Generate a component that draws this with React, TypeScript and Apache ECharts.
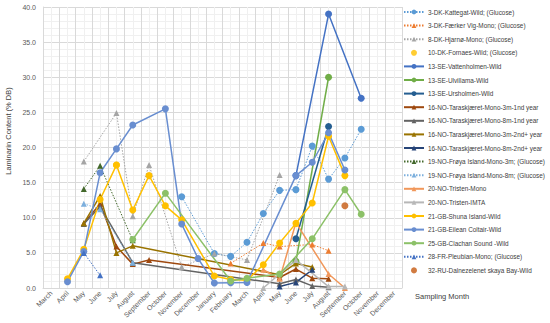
import React, { useEffect, useRef } from "react";
import * as echarts from "echarts";

const _ = null;

const months = [
  "March", "April", "May", "June", "July", "August", "September", "October", "November", "December",
  "January", "February", "March", "April", "May", "June", "July", "August", "September", "October", "November", "December",
];

// index:            Mar  Apr  May  Jun  Jul  Aug  Sep  Oct  Nov  Dec  Jan  Feb  Mar  Apr  May  Jun  Jul  Aug  Sep  Oct  Nov  Dec
const kattegat =    [_,   _,   _,   _,   _,   _,   _,   _,   13.0,_,   4.9, 4.5, 6.5, 10.6,13.9,14.0,20.2,15.5,18.5,22.6,_,   _];
const faerkerVig =  [_,   _,   _,   _,   _,   _,   _,   _,   _,   _,   _,   3.5, _,   6.4, 5.9, _,   6.2, 5.3, _,   _,   _,   _];
const hjarno =      [_,   _,   18.0,_,   24.9,10.2,17.5,_,   3.0, _,   4.9, _,   4.0, _,   16.1,_,   _,   _,   _,   _,   _,   _];
const fornaes =     [_,   _,   _,   _,   17.5,_,   _,   _,   _,   _,   _,   _,   _,   _,   _,   _,   _,   _,   _,   _,   _,   _];
const vattenholmen =[_,   _,   _,   _,   _,   _,   _,   _,   _,   _,   _,   _,   _,   _,   _,   16.0,_,   39.0,_,   27.0,_,   _];
const ulvillama =   [_,   _,   _,   _,   _,   _,   _,   _,   _,   _,   _,   _,   _,   _,   _,   3.8, _,   30.0,_,   _,   _,   _];
const ursholmen =   [_,   _,   _,   _,   _,   _,   _,   _,   _,   _,   _,   _,   _,   _,   _,   7.0, _,   23.0,_,   _,   _,   _];
const no3m1 =       [_,   _,   9.2, 12.0,5.9, 3.4, 4.0, _,   _,   _,   _,   _,   _,   _,   1.5, 2.7, 1.4, 1.3, _,   _,   _,   _];
const no8m1 =       [_,   _,   9.1, 11.6,_,   3.6, _,   _,   _,   _,   _,   _,   _,   _,   0.6, 1.2, 0.3, 0.1, _,   _,   _,   _];
const no3m2 =       [_,   _,   9.2, 13.1,5.0, 6.0, _,   _,   _,   _,   _,   _,   _,   _,   1.9, 3.5, 3.0, _,   _,   _,   _,   _];
const no8m2 =       [_,   _,   _,   _,   _,   _,   _,   _,   _,   _,   _,   _,   _,   _,   0.2, 0.8, 2.6, _,   _,   _,   _,   _];
const froya3m =     [_,   _,   14.1,17.4,_,   6.8, _,   _,   _,   _,   _,   _,   _,   _,   _,   _,   _,   _,   _,   _,   _,   _];
const froya8m =     [_,   _,   12.0,11.2,_,   3.6, _,   _,   _,   _,   _,   _,   _,   _,   _,   _,   _,   _,   _,   _,   _,   _];
const tristenMono = [_,   _,   _,   _,   _,   _,   _,   _,   _,   _,   _,   _,   _,   2.6, 1.3, 9.3, _,   2.0, 0.0, _,   _,   _];
const tristenImta = [_,   _,   _,   _,   _,   _,   _,   _,   _,   _,   _,   _,   _,   0.0, _,   4.0, _,   0.2, 0.2, _,   _,   _];
const shuna =       [_,   1.3, 5.5, 12.6,17.5,11.1,16.0,11.7,9.7, _,   1.7, 1.2, 1.1, 3.3, 6.4, 9.2, 12.1,21.6,16.0,_,   _,   _];
const eileanColtair=[_,   0.9, 5.2, 16.4,19.8,23.2,_,   25.5,9.1, 4.2, 0.7, 0.75,0.8, _,   _,   16.0,17.9,22.1,16.8,_,   _,   _];
const clachan =     [_,   _,   _,   _,   _,   6.9, _,   13.5,_,   _,   _,   1.0, 1.4, _,   2.0, _,   7.0, _,   14.0,10.5,_,   _];
const pleubian =    [_,   _,   5.0, 1.8, _,   _,   _,   _,   _,   _,   _,   _,   _,   _,   _,   _,   _,   _,   _,   _,   _,   _];
const dalnezelenetskaya = [_, _, _, _, _, _, _,  _,   _,   _,   _,   _,   _,   _,   _,   _,   _,   _,   11.7,_,   _,   _];

const yTicks = [0, 5, 10, 15, 20, 25, 30, 35, 40];

type Def = { name: string; data: (number | null)[]; color: string; symbol: string; line: "solid" | "dotted" | "none" };

const defs: Def[] = [
  { name: "3-DK-Kattegat-Wild; (Glucose)", data: kattegat, color: "#5B9BD5", symbol: "circle", line: "dotted" },
  { name: "3-DK-Færker Vig-Mono; (Glucose)", data: faerkerVig, color: "#ED7D31", symbol: "triangle", line: "dotted" },
  { name: "8-DK-Hjarnø-Mono; (Glucose)", data: hjarno, color: "#A5A5A5", symbol: "triangle", line: "dotted" },
  { name: "10-DK-Fornaes-Wild; (Glucose)", data: fornaes, color: "#FFC000", symbol: "circle", line: "none" },
  { name: "13-SE-Vattenholmen-Wild", data: vattenholmen, color: "#4472C4", symbol: "circle", line: "solid" },
  { name: "13-SE-Ulvillama-Wild", data: ulvillama, color: "#70AD47", symbol: "circle", line: "solid" },
  { name: "13-SE-Ursholmen-Wild", data: ursholmen, color: "#255E91", symbol: "circle", line: "solid" },
  { name: "16-NO-Taraskjæret-Mono-3m-1nd year", data: no3m1, color: "#9E480E", symbol: "triangle", line: "solid" },
  { name: "16-NO-Taraskjæret-Mono-8m-1nd year", data: no8m1, color: "#636363", symbol: "triangle", line: "solid" },
  { name: "16-NO-Taraskjæret-Mono-3m-2nd+ year", data: no3m2, color: "#997300", symbol: "triangle", line: "solid" },
  { name: "16-NO-Taraskjæret-Mono-8m-2nd+ year", data: no8m2, color: "#264478", symbol: "triangle", line: "solid" },
  { name: "19-NO-Frøya Island-Mono-3m; (Glucose)", data: froya3m, color: "#43682B", symbol: "triangle", line: "dotted" },
  { name: "19-NO-Frøya Island-Mono-8m; (Glucose)", data: froya8m, color: "#7CAFDD", symbol: "triangle", line: "dotted" },
  { name: "20-NO-Tristen-Mono", data: tristenMono, color: "#F1975A", symbol: "triangle", line: "solid" },
  { name: "20-NO-Tristen-IMTA", data: tristenImta, color: "#B7B7B7", symbol: "triangle", line: "solid" },
  { name: "21-GB-Shuna Island-Wild", data: shuna, color: "#FFC000", symbol: "circle", line: "solid" },
  { name: "21-GB-Eilean Coltair-Wild", data: eileanColtair, color: "#698ED0", symbol: "circle", line: "solid" },
  { name: "25-GB-Clachan Sound -Wild", data: clachan, color: "#8CC168", symbol: "circle", line: "solid" },
  { name: "28-FR-Pleubian-Mono; (Glucose)", data: pleubian, color: "#4472C4", symbol: "triangle", line: "dotted" },
  { name: "32-RU-Dalnezelenet skaya Bay-Wild", data: dalnezelenetskaya, color: "#C55A11", symbol: "circle", line: "none" },
];

const FONT = "'Liberation Sans', Arial, sans-serif";

export default function App() {
  const ref = useRef<HTMLDivElement>(null);
  useEffect(() => {
    if (!ref.current) return;
    const chart = echarts.init(ref.current, undefined, { renderer: "svg" });
    const series: any[] = defs.map((d) => {
      if (d.line === "none") {
        return {
          name: d.name,
          type: "scatter",
          data: d.data,
          symbol: d.symbol,
          symbolSize: 7,
          itemStyle: { color: d.color },
          xAxisIndex: 0,
        };
      }
      const isCircle = d.symbol === "circle";
      return {
        name: d.name,
        type: "line",
        data: d.data,
        connectNulls: true,
        symbol: d.symbol,
        symbolSize: isCircle ? 7 : 6,
        showAllSymbol: true,
        itemStyle: { color: d.color },
        lineStyle: {
          color: d.color,
          width: d.line === "dotted" ? 1 : 1.5,
          type: d.line === "dotted" ? [1.5, 1.5] : "solid",
        },
        xAxisIndex: 0,
      };
    });
    chart.setOption({
      animation: false,
      textStyle: { fontFamily: FONT },
      grid: { left: 43, top: 7, right: 148, bottom: 35, containLabel: false },
      xAxis: [
        {
          type: "category",
          data: months,
          boundaryGap: true,
          axisLine: { show: true, lineStyle: { color: "#D9D9D9", width: 1 } },
          axisTick: { show: false },
          splitLine: { show: false },
          axisLabel: {
            interval: 0,
            rotate: 45,
            fontSize: 7,
            color: "#595959",
            margin: 4,
            fontFamily: FONT,
          },
          z: 3,
        },
        {
          type: "value",
          position: "top",
          min: 0,
          max: 22,
          interval: 1,
          axisLine: { show: false },
          axisTick: { show: false },
          axisLabel: { show: false },
          splitLine: { show: true, lineStyle: { color: "#D9D9D9", width: 1 } },
          minorTick: { show: false, splitNumber: 2 },
          minorSplitLine: { show: true, lineStyle: { color: "#F0F0F0", width: 1 } },
        },
      ],
      yAxis: {
        type: "value",
        min: 0,
        max: 40,
        interval: 5,
        axisLine: { show: true, lineStyle: { color: "#D9D9D9" } },
        axisTick: { show: false },
        axisLabel: {
          formatter: (v: number) => (yTicks.includes(v) ? v.toFixed(1) : ""),
          fontSize: 7,
          color: "#595959",
          margin: 7,
          fontFamily: FONT,
        },
        splitLine: { show: true, lineStyle: { color: "#D9D9D9", width: 1 } },
        minorTick: { show: false, splitNumber: 5 },
        minorSplitLine: { show: true, lineStyle: { color: "#F0F0F0", width: 1 } },
      },
      legend: {
        orient: "vertical",
        left: 403,
        top: 8,
        itemWidth: 20,
        itemHeight: 6,
        itemGap: 5.6,
        padding: 0,
        data: defs.map((d) => d.name),
        textStyle: { fontSize: 6.4, color: "#404040", fontFamily: FONT, lineHeight: 8, padding: [0, 0, 0, -1] },
        selectedMode: false,
      },
      graphic: [
        {
          type: "text",
          x: 8,
          y: 131,
          rotation: Math.PI / 2,
          style: {
            text: "Laminarin Content (% DB)",
            fontSize: 7.5,
            fill: "#404040",
            align: "center",
            verticalAlign: "middle",
            fontFamily: FONT,
          },
        },
        {
          type: "text",
          x: 415,
          y: 296,
          style: {
            text: "Sampling Month",
            fontSize: 7.5,
            fill: "#404040",
            align: "left",
            verticalAlign: "middle",
            fontFamily: FONT,
          },
        },
      ],
      series,
    });
    return () => chart.dispose();
  }, []);
  return <div ref={ref} style={{ width: 550, height: 323, position: "absolute", left: 0, top: 0 }} />;
}
